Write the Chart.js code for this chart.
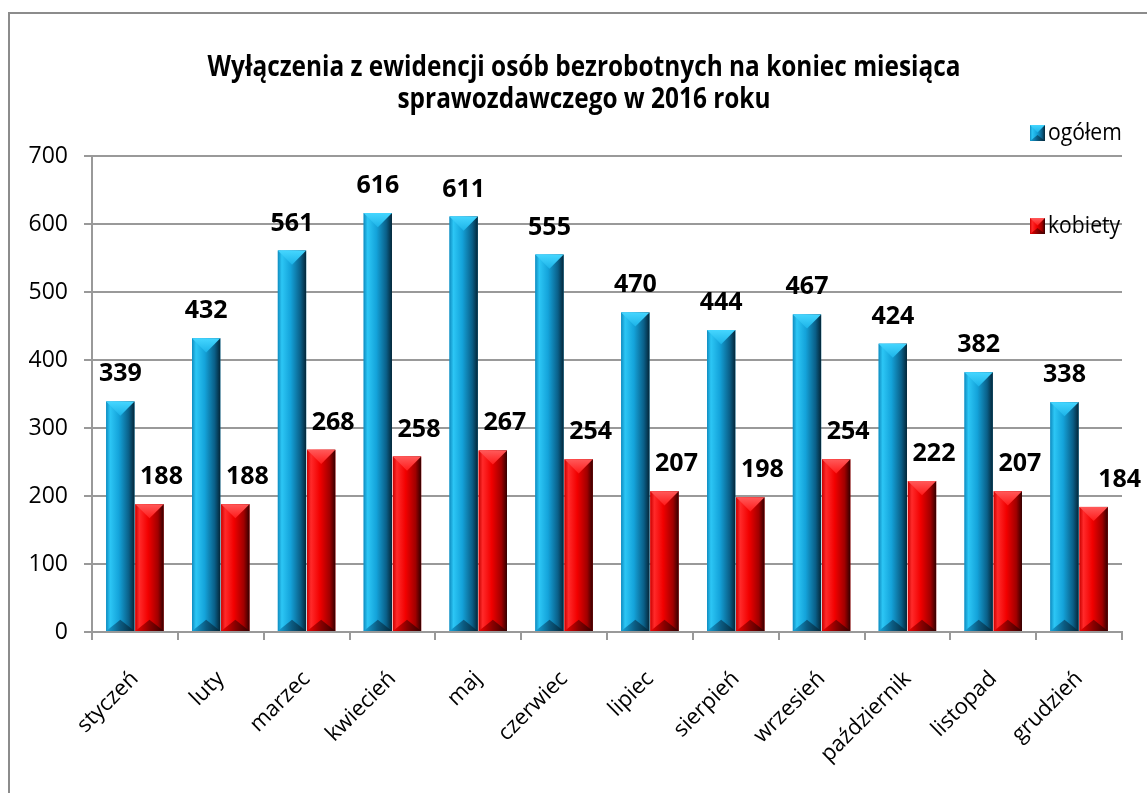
<!DOCTYPE html>
<html><head><meta charset="utf-8">
<script src="https://cdn.jsdelivr.net/npm/chart.js@4.4.1/dist/chart.umd.min.js"></script>
<style>html,body{margin:0;padding:0;background:#fff;overflow:hidden}#wrap{width:1147px;height:793px;position:relative}</style>
</head><body><div id="wrap"><canvas id="c" width="1147" height="793"></canvas></div>
<script>
const titleLines = ['Wyłączenia z ewidencji osób bezrobotnych na koniec miesiąca', 'sprawozdawczego w 2016 roku'];
const months = ['styczeń','luty','marzec','kwiecień','maj','czerwiec','lipiec','sierpień','wrzesień','październik','listopad','grudzień'];
const seriesNames = ['ogółem', 'kobiety'];
const ogolem = [339,432,561,616,611,555,470,444,467,424,382,338];
const kobiety = [188,188,268,258,267,254,207,198,254,222,207,184];
const yMin = 0, yMax = 700, yStep = 100;

const FONT = '"Open Sans", "DejaVu Sans", sans-serif';
const palettes = [
  {base:'#139fd6', l:'#0f8cc0', hi:'#2cc6f5', mid:'#14a3da', dk:'#0a5f88', edge:'#042638', cap:'#45d6ff', cap2:'#1cb3e8', bot:'#0b5a80'},
  {base:'#f00000', l:'#cc0000', hi:'#ff2a2a', mid:'#f20000', dk:'#a00000', edge:'#330000', cap:'#ff5a5a', cap2:'#ff1a1a', bot:'#880000'}
];

function drawBevel(ctx, left, top, w, h, p) {
  if (h <= 0) return;
  const right = left + w, cx = left + w / 2;
  const g = ctx.createLinearGradient(left, 0, right, 0);
  g.addColorStop(0, p.l); g.addColorStop(0.14, p.hi); g.addColorStop(0.45, p.mid);
  g.addColorStop(0.8, p.dk); g.addColorStop(1, p.edge);
  ctx.fillStyle = g; ctx.fillRect(left, top, w, h);
  const d = Math.min(w / 2, h / 2);
  const gc = ctx.createLinearGradient(0, top, 0, top + d);
  gc.addColorStop(0, p.cap); gc.addColorStop(1, p.cap2);
  ctx.fillStyle = gc;
  ctx.beginPath(); ctx.moveTo(left, top); ctx.lineTo(right, top); ctx.lineTo(cx, top + d); ctx.closePath(); ctx.fill();
  const db = Math.min(w * 0.4, h / 2);
  const gb = ctx.createLinearGradient(left, 0, right, 0);
  gb.addColorStop(0, p.mid); gb.addColorStop(0.5, p.bot); gb.addColorStop(1, p.edge);
  ctx.fillStyle = gb;
  ctx.beginPath(); ctx.moveTo(left, top + h); ctx.lineTo(right, top + h); ctx.lineTo(cx, top + h - db); ctx.closePath(); ctx.fill();
}

const labelOffsets = {red: 12, redLast: 26, gap: 20};

const deco = {
  id: 'deco',
  beforeDraw(chart) {
    const ctx = chart.ctx;
    ctx.save();
    ctx.fillStyle = '#fff'; ctx.fillRect(0, 0, chart.width, chart.height);
    ctx.strokeStyle = '#8c8c8c'; ctx.lineWidth = 2;
    ctx.strokeRect(9, 13, chart.width + 20, chart.height + 20);
    ctx.restore();
  },
  afterDatasetsDraw(chart) {
    const ctx = chart.ctx;
    ctx.save();
    chart.data.datasets.forEach((ds, di) => {
      const meta = chart.getDatasetMeta(di);
      meta.data.forEach(el => {
        const w = el.width;
        drawBevel(ctx, el.x - w / 2, el.y, w, el.base - el.y, palettes[di]);
      });
    });
    ctx.fillStyle = '#000';
    ctx.font = 'bold 25px ' + FONT;
    ctx.textAlign = 'center'; ctx.textBaseline = 'alphabetic';
    chart.data.datasets.forEach((ds, di) => {
      const meta = chart.getDatasetMeta(di);
      meta.data.forEach((el, i) => {
        let dx = 0;
        if (di === 1) dx = (i === meta.data.length - 1) ? labelOffsets.redLast : labelOffsets.red;
        ctx.fillText(String(ds.data[i]), el.x + dx, el.y - labelOffsets.gap);
      });
    });
    ctx.restore();
  },
  afterDraw(chart) {
    const ctx = chart.ctx;
    ctx.save();
    ctx.fillStyle = '#000';
    ctx.font = 'bold 28px ' + FONT;
    ctx.textAlign = 'center'; ctx.textBaseline = 'alphabetic';
    const w1 = ctx.measureText(titleLines[0]).width;
    const s = Math.min(1, 753 / w1);
    const cx = 584;
    [76, 108].forEach((y, k) => {
      ctx.save(); ctx.translate(cx, y); ctx.scale(s, 1);
      ctx.fillText(titleLines[k], 0, 0);
      ctx.restore();
    });
    ctx.font = '23px ' + FONT;
    ctx.textAlign = 'left'; ctx.textBaseline = 'middle';
    const legY = [133, 226];
    seriesNames.forEach((n, k) => {
      drawBevel(ctx, 1030, legY[k] - 8, 15, 16, palettes[k]);
      ctx.fillStyle = '#000';
      ctx.save(); ctx.translate(1048, legY[k]); ctx.scale(0.92, 1);
      ctx.fillText(n, 0, 0);
      ctx.restore();
    });
    ctx.restore();
  }
};

new Chart(document.getElementById('c'), {
  type: 'bar',
  data: {
    labels: months,
    datasets: [
      {label: seriesNames[0], data: ogolem, backgroundColor: palettes[0].base, categoryPercentage: 0.68, barPercentage: 0.97},
      {label: seriesNames[1], data: kobiety, backgroundColor: palettes[1].base, categoryPercentage: 0.68, barPercentage: 0.97}
    ]
  },
  options: {
    responsive: false,
    animation: false,
    devicePixelRatio: 1,
    layout: {padding: {left: 0, right: 25, top: 156, bottom: 0}},
    plugins: {legend: {display: false}, title: {display: false}, tooltip: {enabled: false}},
    scales: {
      x: {
        grid: {display: true, drawOnChartArea: false, drawTicks: true, tickLength: 8, color: '#999', lineWidth: 2, offset: true},
        border: {color: '#999', width: 2},
        ticks: {color: '#000', font: {family: FONT, size: 22}, minRotation: 45, maxRotation: 45, padding: 26, autoSkip: false},
        afterFit(scale) { scale.height = 161; }
      },
      y: {
        min: yMin, max: yMax,
        grid: {color: '#999', lineWidth: 2, tickLength: 8},
        border: {color: '#999', width: 2},
        ticks: {stepSize: yStep, color: '#000', font: {family: FONT, size: 23}, padding: 16},
        afterFit(scale) { scale.width = 92; }
      }
    }
  },
  plugins: [deco]
});
</script>
</body></html>
